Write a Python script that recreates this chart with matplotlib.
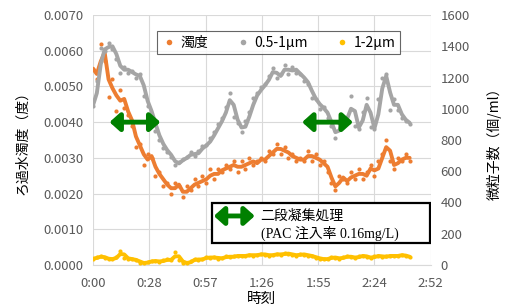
import numpy as np
import pandas as pd
import matplotlib
matplotlib.use('Agg')
import matplotlib.pyplot as plt
from matplotlib.lines import Line2D
from matplotlib.patches import Rectangle

plt.rcParams['font.family'] = ['Noto Sans CJK JP', 'DejaVu Sans']

# one reading every 2 minutes (elapsed minutes)
step_min = 2

# filtered-water turbidity (degree)
turbidity = [
    0.0055, 0.0052, 0.0062, 0.0057, 0.0047, 0.0052, 0.0043, 0.0049, 0.0044, 0.0042,
    0.0039, 0.0033, 0.0034, 0.0028, 0.0031, 0.0030, 0.0025, 0.0026, 0.0022, 0.0023,
    0.0020, 0.0023, 0.0022, 0.0019, 0.0022, 0.0021, 0.0024, 0.0022, 0.0025, 0.0023,
    0.0027, 0.0024, 0.0027, 0.0026, 0.0028, 0.0027, 0.0029, 0.0026, 0.0029, 0.0027,
    0.0030, 0.0028, 0.0029, 0.0030, 0.0029, 0.0032, 0.0031, 0.0034, 0.0031, 0.0033,
    0.0030, 0.0031, 0.0029, 0.0030, 0.0029, 0.0032, 0.0029, 0.0031, 0.0028, 0.0029,
    0.0026, 0.0023, 0.0021, 0.0025, 0.0024, 0.0023, 0.0026, 0.0024, 0.0027, 0.0024,
    0.0026, 0.0028, 0.0025, 0.0029, 0.0031, 0.0035, 0.0029, 0.0027, 0.0030, 0.0029,
    0.0031, 0.0029,
]

# particle counts (per ml)
count_05_1 = [
    1020, 1180, 1390, 1370, 1420, 1380, 1320, 1230, 1270, 1230,
    1240, 1200, 1220, 1080, 1020, 950, 860, 800, 750, 720,
    690, 640, 660, 680, 690, 720, 700, 730, 760, 770,
    810, 850, 900, 940, 1010, 1100, 950, 910, 850, 920,
    980, 1070, 1100, 1140, 1160, 1210, 1260, 1200, 1220, 1280,
    1220, 1270, 1230, 1220, 1180, 1160, 1070, 1060, 1000, 1010,
    940, 890, 810, 910, 950, 920, 1080, 890, 870, 980,
    1070, 880, 870, 1060, 1200, 1220, 990, 1060, 990, 940,
    920, 900,
]
count_1_2 = [
    40, 50, 55, 45, 35, 40, 50, 90, 45, 40,
    35, 30, 15, 10, 20, 25, 25, 20, 30, 35,
    30, 80, 30, 15, 10, 25, 40, 30, 40, 50,
    45, 50, 40, 45, 55, 50, 55, 60, 55, 60,
    65, 60, 65, 70, 65, 60, 65, 70, 65, 75,
    70, 65, 60, 70, 65, 60, 55, 45, 40, 35,
    40, 50, 45, 40, 50, 55, 50, 45, 55, 60,
    50, 45, 55, 60, 50, 55, 60, 55, 60, 65,
    55, 50,
]

series_labels = ['濁度', '0.5-1µm', '1-2µm']
colors = ['#ED7D31', '#A5A5A5', '#FFC000']

# two-stage coagulation periods (minutes)
periods = [(8.5, 34.5), (107, 133)]
arrow_level = 0.0040

x_ticks = np.arange(7) * 28.8  # 0.02 day steps
x_max = 172.8

t = np.arange(len(turbidity)) * step_min


def trend(vals):
    return pd.Series(vals).rolling(2, min_periods=1).mean()


def hm(m):
    return f'{int(m // 60)}:{int(m % 60):02d}'


fig, ax = plt.subplots(figsize=(5.05, 3.07), dpi=100)
fig.subplots_adjust(left=0.184, right=0.853, bottom=0.137, top=0.951)
ax2 = ax.twinx()

ax.plot(t, turbidity, 'o', ms=3, color=colors[0], mec='none')
ax.plot(t, trend(turbidity), '-', lw=2.8, color=colors[0], solid_capstyle='round')

ax2.plot(t, count_05_1, 'o', ms=3, color=colors[1], mec='none')
ax2.plot(t, trend(count_05_1), '-', lw=2.8, color=colors[1], solid_capstyle='round')
ax2.plot(t, count_1_2, 'o', ms=3, color=colors[2], mec='none')
ax2.plot(t, trend(count_1_2), '-', lw=2.8, color=colors[2], solid_capstyle='round')

ax.set_xlim(0, x_max)
ax.set_ylim(0, 0.007)
ax2.set_ylim(0, 1600)
ax.set_xticks(x_ticks)
ax.set_xticklabels([hm(m) for m in x_ticks])
ax.set_yticks(np.arange(8) * 0.001)
ax.set_yticklabels([f'{v:.4f}' for v in np.arange(8) * 0.001])
ax2.set_yticks(np.arange(9) * 200)

ax.grid(True, color='#D9D9D9', lw=0.8)
ax.set_axisbelow(True)
for a in (ax, ax2):
    for s in a.spines.values():
        s.set_visible(False)
    a.tick_params(length=0, labelsize=9.5, labelcolor='#595959')
ax.tick_params(axis='y', pad=7)
ax.tick_params(axis='x', pad=9)
ax2.tick_params(axis='y', pad=7)
ax.spines['bottom'].set_visible(True)
ax.spines['bottom'].set_color('#D9D9D9')

ax.set_xlabel('時刻', fontsize=10.5, labelpad=1)
ax.set_ylabel('ろ過水濁度（度）', fontsize=10, labelpad=10)
ax2.set_ylabel('微粒子数（個/ml）', fontsize=10, labelpad=12)

for a, b in periods:
    ax2.annotate('', xy=(a, arrow_level / 0.007 * 1600), xytext=(b, arrow_level / 0.007 * 1600),
                 arrowprops=dict(arrowstyle='<|-|>,head_length=0.5,head_width=0.45',
                                 lw=3.5, color='#008000', shrinkA=0, shrinkB=0,
                                 mutation_scale=12))

handles = [Line2D([], [], ls='none', marker='o', ms=4, color=c, mec='none') for c in colors]
leg = ax2.legend(handles, series_labels, ncol=3, loc='upper center', bbox_to_anchor=(0.55, 0.965),
                 frameon=True, fancybox=False, fontsize=10, handletextpad=0.3, columnspacing=2.0,
                 borderpad=0.35, handlelength=1.0)
leg.get_frame().set_edgecolor('#404040')
leg.get_frame().set_linewidth(0.8)

box = Rectangle((0.352, 0.088), 0.645, 0.16, transform=ax2.transAxes, fill=True,
                facecolor='white', edgecolor='black', lw=1.6, zorder=5)
ax2.add_patch(box)
ax2.annotate('', xy=(0.358, 0.196), xytext=(0.479, 0.196), xycoords='axes fraction',
             textcoords='axes fraction', zorder=6,
             arrowprops=dict(arrowstyle='<|-|>,head_length=0.5,head_width=0.45',
                             lw=3.5, color='#008000', shrinkA=0, shrinkB=0, mutation_scale=12))
ax2.text(0.494, 0.196, '二段凝集処理', transform=ax2.transAxes, fontsize=10,
         va='center', ha='left', zorder=6)
ax2.text(0.497, 0.128, '(PAC 注入率 0.16mg/L)', transform=ax2.transAxes, fontsize=10,
         va='center', ha='left', zorder=6, family=['Liberation Serif', 'Noto Sans CJK JP'])

fig.savefig('out.png', dpi=100)
